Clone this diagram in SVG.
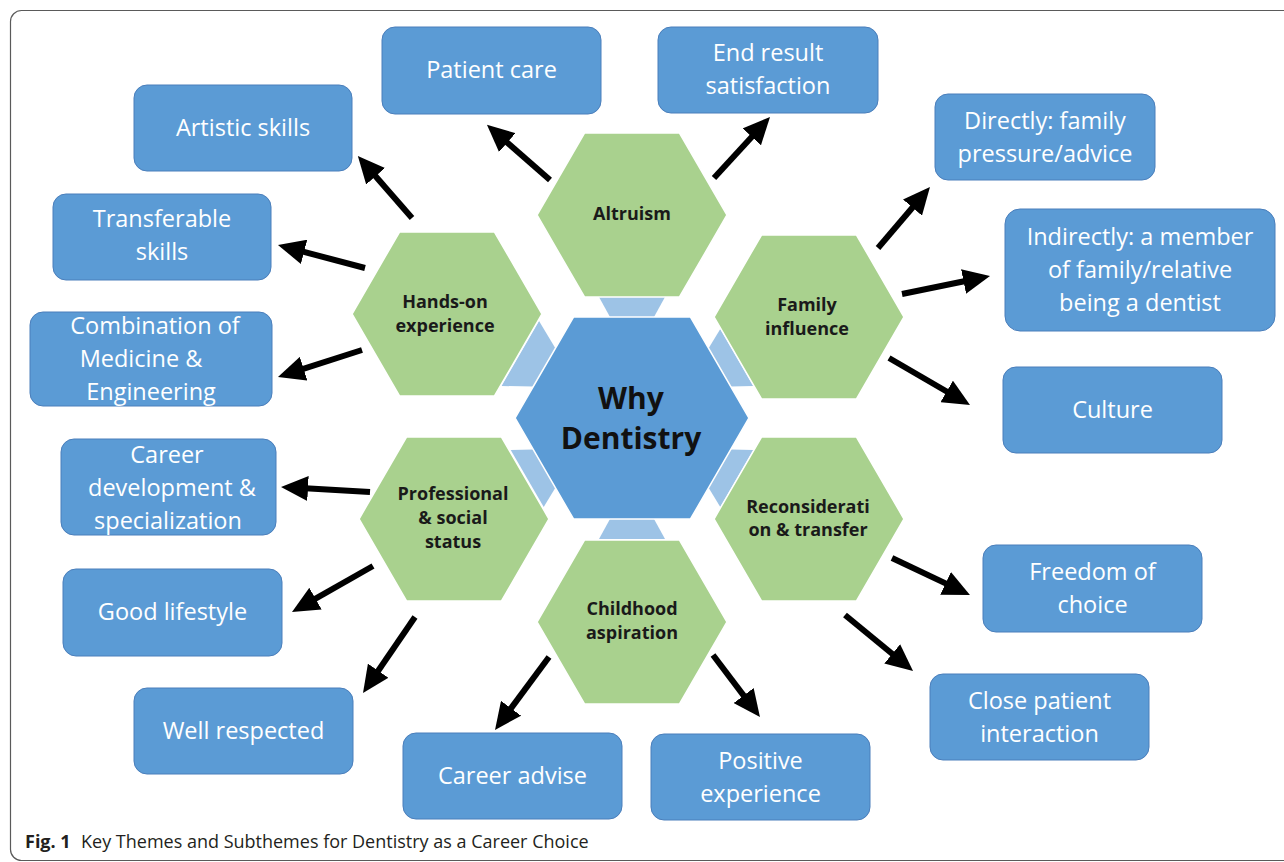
<svg xmlns="http://www.w3.org/2000/svg" width="1284" height="862" viewBox="0 0 1284 862">
  <defs>
    <style>
      .frame { fill: #ffffff; stroke: #5a5a5a; stroke-width: 1.2; }
      .hex { fill: #a9d18e; stroke: #ffffff; stroke-width: 1.5; }
      .core { fill: #5b9bd5; stroke: #ffffff; stroke-width: 1.5; }
      .link { fill: #9dc3e6; }
      .box { fill: #5b9bd5; stroke: #4a7ebb; stroke-width: 1; }
      .boxtxt { font-family: "Open Sans", "Liberation Sans", sans-serif; font-size: 23.5px; fill: #ffffff; text-anchor: middle; }
      .hextxt { font-family: "Open Sans", "Liberation Sans", sans-serif; font-size: 18px; font-weight: bold; fill: #1a1a1a; text-anchor: middle; }
      .coretxt { font-family: "Open Sans", "Liberation Sans", sans-serif; font-size: 30px; font-weight: bold; fill: #111111; text-anchor: middle; }
      .cap { font-family: "Open Sans", "Liberation Sans", sans-serif; font-size: 18px; fill: #231f20; }
      .arrow { stroke: #000000; stroke-width: 6; fill: none; marker-end: url(#head); }
    </style>
    <marker id="head" markerUnits="userSpaceOnUse" viewBox="0 0 27 25" markerWidth="27" markerHeight="25" refX="7" refY="12.5" orient="auto">
      <path d="M0,0 L27,12.5 L0,25 Z" fill="#000000"/>
    </marker>
  </defs>

  <!-- figure frame -->
  <rect class="frame" x="10.5" y="10.5" width="1300" height="850" rx="11"/>

  <!-- light blue joints between the core and the outer themes -->
  <g id="joints">
    <polygon class="link" points="599,297 665,297 654,317 610,317"/>
    <polygon class="link" points="599,297 665,297 654,317 610,317" transform="rotate(60 632 418)"/>
    <polygon class="link" points="599,297 665,297 654,317 610,317" transform="rotate(120 632 418)"/>
    <polygon class="link" points="599,297 665,297 654,317 610,317" transform="rotate(180 632 418)"/>
    <polygon class="link" points="599,297 665,297 654,317 610,317" transform="rotate(240 632 418)"/>
    <polygon class="link" points="594.5,289 669.5,289 654,317 610,317" transform="rotate(300 632 418)"/>
  </g>

  <!-- connectors -->
  <g id="connectors">
    <line class="arrow" x1="550" y1="180" x2="502" y2="138"/>
    <line class="arrow" x1="714" y1="178" x2="756.5" y2="131.7"/>
    <line class="arrow" x1="412" y1="218" x2="371" y2="171"/>
    <line class="arrow" x1="365" y1="268" x2="297.3" y2="250.1"/>
    <line class="arrow" x1="362" y1="350" x2="297" y2="370.9"/>
    <line class="arrow" x1="878" y1="248" x2="917" y2="202.2"/>
    <line class="arrow" x1="902" y1="294" x2="970.4" y2="280"/>
    <line class="arrow" x1="889" y1="358" x2="952.7" y2="395"/>
    <line class="arrow" x1="370" y1="492" x2="301" y2="488.1"/>
    <line class="arrow" x1="373" y1="566" x2="309.4" y2="602.1"/>
    <line class="arrow" x1="415" y1="617" x2="374.3" y2="676.5"/>
    <line class="arrow" x1="892" y1="558" x2="951.9" y2="586.4"/>
    <line class="arrow" x1="845" y1="615" x2="897.6" y2="658.3"/>
    <line class="arrow" x1="549" y1="657" x2="506.9" y2="713.9"/>
    <line class="arrow" x1="713" y1="655" x2="747.9" y2="701.1"/>
  </g>

  <!-- core theme -->
  <g id="why-dentistry">
    <polygon class="core" points="515,418 573.5,317 690.5,317 749,418 690.5,519 573.5,519"/>
    <text class="coretxt" x="631" y="409">Why</text>
    <text class="coretxt" x="631" y="449">Dentistry</text>
  </g>

  <!-- themes -->
  <g id="altruism">
    <polygon class="hex" points="537,215 584.5,133 679.5,133 727,215 679.5,297 584.5,297"/>
    <text class="hextxt" x="632" y="220">Altruism</text>
  </g>
  <g id="hands-on">
    <polygon class="hex" points="352,314 399.5,232 494.5,232 542,314 494.5,396 399.5,396"/>
    <text class="hextxt" x="445" y="308">Hands-on</text>
    <text class="hextxt" x="445" y="332">experience</text>
  </g>
  <g id="family">
    <polygon class="hex" points="714,317 761.5,235 856.5,235 904,317 856.5,399 761.5,399"/>
    <text class="hextxt" x="807" y="311">Family</text>
    <text class="hextxt" x="807" y="335">influence</text>
  </g>
  <g id="professional">
    <polygon class="hex" points="359,519 406.5,437 501.5,437 549,519 501.5,601 406.5,601"/>
    <text class="hextxt" x="453" y="500">Professional</text>
    <text class="hextxt" x="453" y="524">&amp; social</text>
    <text class="hextxt" x="453" y="548">status</text>
  </g>
  <g id="reconsideration">
    <polygon class="hex" points="714,519 761.5,437 856.5,437 904,519 856.5,601 761.5,601"/>
    <text class="hextxt" x="808" y="513">Reconsiderati</text>
    <text class="hextxt" x="808" y="536">on &amp; transfer</text>
  </g>
  <g id="childhood">
    <polygon class="hex" points="537,622 584.5,540 679.5,540 727,622 679.5,704 584.5,704"/>
    <text class="hextxt" x="632" y="615">Childhood</text>
    <text class="hextxt" x="632" y="639">aspiration</text>
  </g>

  <!-- subthemes -->
  <g id="patient-care">
    <rect class="box" x="382" y="27" width="219" height="87" rx="13"/>
    <text class="boxtxt" x="491.5" y="78">Patient care</text>
  </g>
  <g id="end-result">
    <rect class="box" x="658" y="27" width="220" height="86" rx="13"/>
    <text class="boxtxt" x="768" y="61">End result</text>
    <text class="boxtxt" x="768" y="94">satisfaction</text>
  </g>
  <g id="artistic">
    <rect class="box" x="134" y="85" width="218" height="86" rx="13"/>
    <text class="boxtxt" x="243" y="136">Artistic skills</text>
  </g>
  <g id="directly">
    <rect class="box" x="935" y="94" width="220" height="86" rx="13"/>
    <text class="boxtxt" x="1045" y="129">Directly: family</text>
    <text class="boxtxt" x="1045" y="162">pressure/advice</text>
  </g>
  <g id="transferable">
    <rect class="box" x="53" y="194" width="218" height="86" rx="13"/>
    <text class="boxtxt" x="162" y="227">Transferable</text>
    <text class="boxtxt" x="162" y="260">skills</text>
  </g>
  <g id="indirectly">
    <rect class="box" x="1005" y="209" width="270" height="122" rx="15"/>
    <text class="boxtxt" x="1140" y="245">Indirectly: a member</text>
    <text class="boxtxt" x="1140" y="278">of family/relative</text>
    <text class="boxtxt" x="1140" y="311">being a dentist</text>
  </g>
  <g id="combination">
    <rect class="box" x="30" y="312" width="242" height="94" rx="13"/>
    <text class="boxtxt" x="155" y="334">Combination of</text>
    <text class="boxtxt" x="141" y="367">Medicine &amp;</text>
    <text class="boxtxt" x="151" y="400">Engineering</text>
  </g>
  <g id="culture">
    <rect class="box" x="1003" y="367" width="219" height="86" rx="13"/>
    <text class="boxtxt" x="1112.5" y="418">Culture</text>
  </g>
  <g id="career-development">
    <rect class="box" x="61" y="439" width="215" height="96" rx="13"/>
    <text class="boxtxt" x="167" y="463">Career</text>
    <text class="boxtxt" x="172" y="496">development &amp;</text>
    <text class="boxtxt" x="168" y="529">specialization</text>
  </g>
  <g id="good-lifestyle">
    <rect class="box" x="63" y="569" width="219" height="87" rx="13"/>
    <text class="boxtxt" x="172.5" y="620">Good lifestyle</text>
  </g>
  <g id="freedom">
    <rect class="box" x="983" y="545" width="219" height="87" rx="13"/>
    <text class="boxtxt" x="1092.5" y="580">Freedom of</text>
    <text class="boxtxt" x="1092.5" y="613">choice</text>
  </g>
  <g id="well-respected">
    <rect class="box" x="134" y="688" width="219" height="86" rx="13"/>
    <text class="boxtxt" x="243.5" y="739">Well respected</text>
  </g>
  <g id="close-patient">
    <rect class="box" x="930" y="674" width="219" height="86" rx="13"/>
    <text class="boxtxt" x="1039.5" y="709">Close patient</text>
    <text class="boxtxt" x="1039.5" y="742">interaction</text>
  </g>
  <g id="career-advise">
    <rect class="box" x="403" y="733" width="219" height="86" rx="13"/>
    <text class="boxtxt" x="512.5" y="784">Career advise</text>
  </g>
  <g id="positive">
    <rect class="box" x="651" y="734" width="219" height="86" rx="13"/>
    <text class="boxtxt" x="760.5" y="769">Positive</text>
    <text class="boxtxt" x="760.5" y="802">experience</text>
  </g>

  <!-- caption -->
  <text class="cap" x="25" y="848"><tspan font-weight="bold">Fig. 1</tspan><tspan x="81">Key Themes and Subthemes for Dentistry as a Career Choice</tspan></text>
</svg>
